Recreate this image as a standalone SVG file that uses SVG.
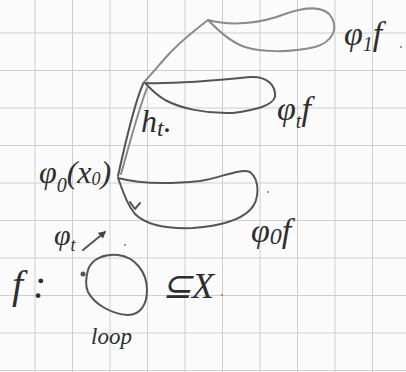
<svg xmlns="http://www.w3.org/2000/svg" width="406" height="372" viewBox="0 0 406 372">
<style>
.grid line{stroke:#cfcfcf;stroke-width:1}
.pen{fill:none;stroke:#555;stroke-width:2;stroke-linecap:round;stroke-linejoin:round}
.pencil{fill:none;stroke:#8a8a8a;stroke-width:2;stroke-linecap:round}
.t{font-family:"Liberation Serif",serif;font-style:italic;fill:#2e2e2e}
.dot{fill:#777}
</style>
<defs>
<marker id="ah" markerWidth="8" markerHeight="8" refX="6" refY="4" orient="auto" markerUnits="userSpaceOnUse">
<path d="M0,0 L7,4 L0,8 Z" fill="#444"/>
</marker>
</defs>
<rect width="406" height="372" fill="#fbfbfb"/>
<g class="grid">
<line x1="35" y1="0" x2="35" y2="372"/><line x1="72.5" y1="0" x2="72.5" y2="372"/><line x1="110" y1="0" x2="110" y2="372"/><line x1="147.5" y1="0" x2="147.5" y2="372"/><line x1="185" y1="0" x2="185" y2="372"/><line x1="222.5" y1="0" x2="222.5" y2="372"/><line x1="260" y1="0" x2="260" y2="372"/><line x1="297.5" y1="0" x2="297.5" y2="372"/><line x1="335" y1="0" x2="335" y2="372"/><line x1="372.5" y1="0" x2="372.5" y2="372"/>
<line x1="0" y1="33" x2="406" y2="33"/><line x1="0" y1="70.5" x2="406" y2="70.5"/><line x1="0" y1="108" x2="406" y2="108"/><line x1="0" y1="145.5" x2="406" y2="145.5"/><line x1="0" y1="183" x2="406" y2="183"/><line x1="0" y1="220.5" x2="406" y2="220.5"/><line x1="0" y1="258" x2="406" y2="258"/><line x1="0" y1="295.5" x2="406" y2="295.5"/><line x1="0" y1="333" x2="406" y2="333"/><line x1="0" y1="370.5" x2="406" y2="370.5"/>
</g>
<g id="connectors">
<path class="pencil" d="M208,20 C195,30 180,42 168,55 C158,66 150,76 143,83"/>
<path class="pen" d="M143,84 C135,102 127,135 118,176"/>
<path class="pencil" d="M147,88 C139,108 130,142 121,174"/>
<path class="pen" d="M83,250 L105,232" marker-end="url(#ah)"/>
</g>
<g id="loop-phi1">
<path class="pencil" d="M208,20 C230,26 260,24 285,14 C305,7 325,5 332,18 C338,30 332,42 315,47 C290,53 260,52 245,47 C230,42 218,30 208,20"/>
<text class="t" x="344" y="45" font-size="34">φ<tspan font-size="20" dy="6">1</tspan><tspan dy="-6">f</tspan></text>
<circle class="dot" cx="401" cy="47" r="1"/>
</g>
<g id="loop-phit">
<path class="pen" d="M145,83 C170,84 220,80 250,77 C268,76 276,86 275,97 C272,106 255,110 233,113 C205,114 180,108 165,100 C155,94 150,88 145,83"/>
<text class="t" x="277" y="120" font-size="34">φ<tspan font-size="20" dy="8">t</tspan><tspan dy="-8">f</tspan></text>
</g>
<g id="ht">
<text class="t" x="141" y="132" font-size="32">h<tspan font-size="24" dy="4">t</tspan><tspan dy="-4">.</tspan></text>
</g>
<g id="loop-phi0">
<path class="pen" d="M118,178 C140,184 170,184 200,181 C220,178 240,168 250,172 C260,180 260,200 250,210 C240,220 220,226 193,228 C165,229 145,224 135,214 C127,204 124,194 118,178"/>
<path class="pen" d="M130,202 L135,209 L140,203"/>
<text class="t" x="251" y="242" font-size="34">φ<tspan font-size="24" dy="2">0</tspan><tspan dy="-2">f</tspan></text>
<circle class="dot" cx="268" cy="192" r="1"/>
</g>
<g id="basepoint">
<text class="t" x="39" y="183" font-size="32">φ<tspan font-size="20" dy="9">0</tspan><tspan dy="-9">(x</tspan><tspan font-size="18" dy="2">0</tspan><tspan dy="-2">)</tspan></text>
</g>
<g id="phit-label">
<text class="t" x="54" y="245" font-size="30">φ<tspan font-size="18" dy="6">t</tspan></text>
<circle class="dot" cx="125" cy="245" r="1"/>
</g>
<g id="loop-f">
<text class="t" x="12" y="298" font-size="40">f :</text>
<path class="pen" d="M88,270 C92,258 105,254 118,255 C135,257 147,272 147,290 C147,305 140,315 128,315 C112,314 95,305 88,292 C85,285 86,277 88,270"/>
<circle cx="83" cy="274" r="2.5" fill="#555"/>
<text class="t" x="162" y="298" font-size="36">⊆X</text>
<circle class="dot" cx="222" cy="295" r="1"/>
<text class="t" x="91" y="344" font-size="23">loop</text>
</g>
</svg>
